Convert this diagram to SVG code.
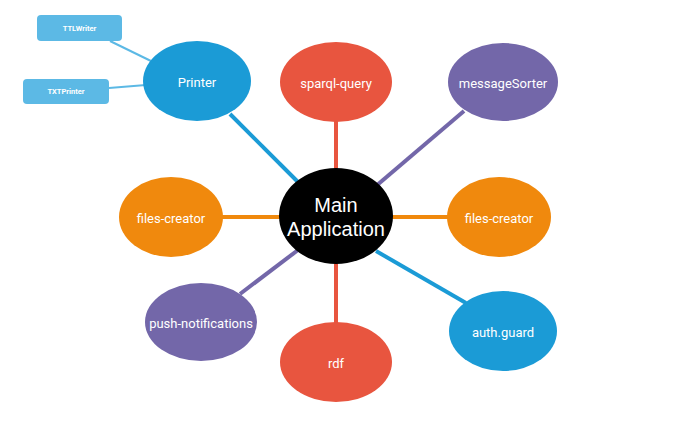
<svg xmlns="http://www.w3.org/2000/svg" width="675" height="425" viewBox="0 0 675 425">
<style>
.lbl{font-family:Roboto,"Liberation Sans",sans-serif;font-size:13px;fill:#fff;text-anchor:middle;dominant-baseline:central}
.sm{font-family:Roboto,"Liberation Sans",sans-serif;font-size:7.5px;font-weight:bold;fill:#fff;text-anchor:middle;dominant-baseline:central}
.main{font-family:"Liberation Sans",Arial,sans-serif;font-size:20px;fill:#fff;text-anchor:middle}
.red{fill:#e8553f}.purple{fill:#7367a9}.orange{fill:#f0890d}.blue{fill:#1b9bd6}.lblue{fill:#5cb9e5}
.c{stroke-width:4;fill:none}
</style>
<rect width="675" height="425" fill="#fff"/>
<g id="connectors">
<line x1="110" y1="41" x2="153" y2="62" stroke="#5cb9e5" stroke-width="2"/>
<line x1="109" y1="88" x2="146" y2="85" stroke="#5cb9e5" stroke-width="2"/>
<line class="c" x1="230" y1="114" x2="298" y2="182" stroke="#1b9bd6"/>
<line class="c" x1="336" y1="120" x2="336" y2="170" stroke="#e8553f"/>
<line class="c" x1="464" y1="111" x2="376" y2="186" stroke="#7367a9"/>
<line class="c" x1="222" y1="217" x2="281" y2="217" stroke="#f0890d"/>
<line class="c" x1="391" y1="217" x2="448" y2="217" stroke="#f0890d"/>
<line class="c" x1="240" y1="294" x2="298" y2="250" stroke="#7367a9"/>
<line class="c" x1="336" y1="262" x2="336" y2="324" stroke="#e8553f"/>
<line class="c" x1="376" y1="251" x2="466" y2="303" stroke="#1b9bd6"/>
</g>
<g id="ttlwriter"><rect class="lblue" x="37" y="15" width="85" height="26" rx="4"/><text class="sm" x="79.5" y="28">TTLWriter</text></g>
<g id="txtprinter"><rect class="lblue" x="23" y="79" width="86" height="25" rx="4"/><text class="sm" x="66" y="91.5">TXTPrinter</text></g>
<g id="printer"><ellipse class="blue" cx="197" cy="81" rx="54" ry="40"/><text class="lbl" x="197" y="82">Printer</text></g>
<g id="sparql-query"><ellipse class="red" cx="336" cy="82" rx="56" ry="40"/><text class="lbl" x="336" y="83">sparql-query</text></g>
<g id="messageSorter"><ellipse class="purple" cx="503" cy="82" rx="55" ry="39"/><text class="lbl" x="503" y="83">messageSorter</text></g>
<g id="files-creator-left"><ellipse class="orange" cx="171" cy="217" rx="52" ry="40"/><text class="lbl" x="171" y="218">files-creator</text></g>
<g id="files-creator-right"><ellipse class="orange" cx="499" cy="217" rx="52" ry="40"/><text class="lbl" x="499" y="218">files-creator</text></g>
<g id="push-notifications"><ellipse class="purple" cx="201" cy="322" rx="56" ry="39"/><text class="lbl" x="201" y="323">push-notifications</text></g>
<g id="rdf"><ellipse class="red" cx="336" cy="362" rx="56" ry="40"/><text class="lbl" x="336" y="363">rdf</text></g>
<g id="auth-guard"><ellipse class="blue" cx="503" cy="331" rx="54" ry="40"/><text class="lbl" x="503" y="332">auth.guard</text></g>
<g id="main"><ellipse fill="#000" cx="336" cy="216" rx="57" ry="48"/><text class="main" x="336" y="212">Main</text><text class="main" x="336" y="236">Application</text></g>
</svg>
